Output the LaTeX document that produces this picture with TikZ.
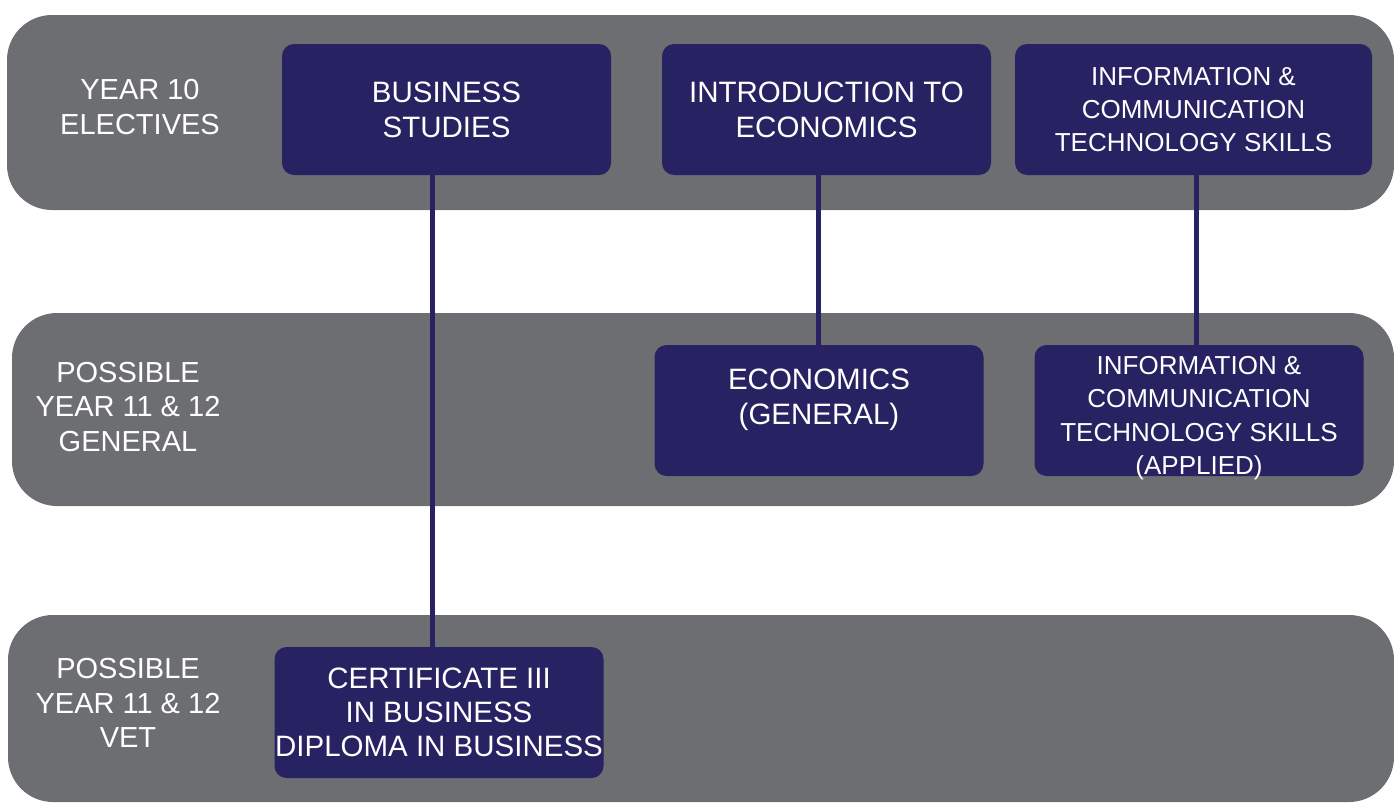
\documentclass[tikz,border=0pt]{standalone}
\usepackage{fontspec}
\setmainfont{Liberation Sans}
\definecolor{bandgray}{RGB}{109,110,113}
\definecolor{navy}{RGB}{39,34,98}
\tikzset{
  band/.style={fill=bandgray, rounded corners=45pt},
  course/.style={fill=navy, rounded corners=12pt, text=white, align=center,
    minimum width=329pt, minimum height=131pt, inner sep=0pt,
    font=\fontsize{29.5}{35}\selectfont},
  smallcourse/.style={course, font=\fontsize{26}{33.5}\selectfont},
  level/.style={text=white, align=center, font=\fontsize{29}{34.5}\selectfont},
  path/.style={draw=navy, line width=5pt}
}
\begin{document}
\begin{tikzpicture}[x=1pt, y=-1pt]
			\useasboundingbox (0,0) rectangle (1394,803);

			% Bands
			\fill[band] (7,15) rectangle (1394,210);
			\fill[band] (12,313) rectangle (1394,506);
			\fill[band] (8,615) rectangle (1394,802);

			% Level labels
			\node[level] (y10) at (140,107) {YEAR 10\\ELECTIVES};
			\node[level] (gen) at (128,407) {POSSIBLE\\YEAR 11 \& 12\\GENERAL};
			\node[level] (vet) at (128,703) {POSSIBLE\\YEAR 11 \& 12\\VET};

			% Courses
			\node[course] (bus) at (446.5,109.5) {BUSINESS\\STUDIES};
			\node[smallcourse, minimum width=357pt, font=\fontsize{26}{33}\selectfont] (ict) at (1193.5,109.5) {INFORMATION \&\\COMMUNICATION\\TECHNOLOGY SKILLS};
			\node[course] (intro) at (826.5,109.5) {INTRODUCTION TO\\ECONOMICS};
			\node[course] (eco) at (819,410.5) {ECONOMICS\\(GENERAL)\\[-8pt]};
			\node[smallcourse, text height=128pt, text depth=0pt] (icta) at (1199,410.5) {INFORMATION \&\\COMMUNICATION\\TECHNOLOGY SKILLS\\(APPLIED)};
			\node[course, font=\fontsize{29.5}{34}\selectfont] (cert) at (439,712.5) {CERTIFICATE III\\IN BUSINESS\\DIPLOMA IN BUSINESS};

			% Pathways
			\draw[path] (bus.south -| 432,0) -- (cert.north -| 432,0);
			\draw[path] (intro.south -| 818,0) -- (eco.north -| 818,0);
			\draw[path] (ict.south -| 1196,0) -- (icta.north -| 1196,0);
\end{tikzpicture}
\end{document}
